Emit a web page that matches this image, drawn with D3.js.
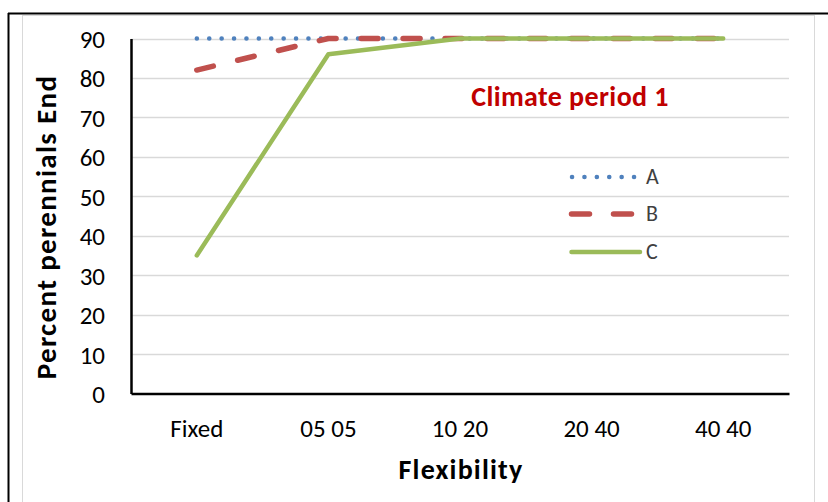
<!DOCTYPE html>
<html><head><meta charset="utf-8">
<script src="https://cdn.jsdelivr.net/npm/d3@7"></script>
<style>body{margin:0;background:#fff;}svg{display:block;}</style>
</head><body>
<svg id="c" width="828" height="502"></svg>
<script>
const categories = ["Fixed", "05 05", "10 20", "20 40", "40 40"];
const seriesA = [90, 90, 90, 90, 90];
const seriesB = [82, 90, 90, 90, 90];
const seriesC = [35, 86, 90, 90, 90];
const seriesNames = ["A", "B", "C"];
const yTicks = [0, 10, 20, 30, 40, 50, 60, 70, 80, 90];

(function () {
const svg = d3.select("#c");
const font = "Carlito, Calibri, Lato, 'Open Sans', sans-serif";

// borders
svg.append("line").attr("x1", 8).attr("x2", 828).attr("y1", 13.5).attr("y2", 13.5).attr("stroke", "#000").attr("stroke-width", 2);
svg.append("line").attr("x1", 8.5).attr("x2", 8.5).attr("y1", 13).attr("y2", 502).attr("stroke", "#000").attr("stroke-width", 2);
svg.append("rect").attr("x", 22.5).attr("y", 15.5).attr("width", 792).attr("height", 500).attr("fill", "none").attr("stroke", "#d9d9d9").attr("stroke-width", 1);

const pl = 131, pr = 789, pt = 38.5, pb = 393.5;
const x = d3.scaleBand().domain(categories).range([pl, pr]);
const y = d3.scaleLinear().domain([0, 90]).range([pb, pt]);

// gridlines
svg.append("g").selectAll("line").data(yTicks.filter(t => t > 0)).join("line")
  .attr("x1", pl).attr("x2", pr)
  .attr("y1", d => Math.round(y(d)) + 0.5).attr("y2", d => Math.round(y(d)) + 0.5)
  .attr("stroke", "#d9d9d9").attr("stroke-width", 1.3);

// y axis
const ya = svg.append("g").attr("transform", `translate(${pl},0)`)
  .call(d3.axisLeft(y).tickValues(yTicks).tickSize(0).tickPadding(26));
ya.select(".domain").attr("stroke", "#000").attr("stroke-width", 2.5);
ya.selectAll("text").attr("font-family", font).attr("font-size", 25).attr("fill", "#000").attr("dy", "0.36em");

// x axis
const xa = svg.append("g").attr("transform", `translate(0,${pb})`)
  .call(d3.axisBottom(x).tickSize(0));
xa.select(".domain").attr("stroke", "#000").attr("stroke-width", 2.5);
xa.selectAll("text").attr("font-family", font).attr("font-size", 25).attr("fill", "#000")
  .attr("dy", null).attr("y", 43);

const cx = d => x(d) + x.bandwidth() / 2;
const line = d3.line().x(d => cx(d.c)).y(d => y(d.v));
const mk = arr => categories.map((c, i) => ({c, v: arr[i]}));

const styles = [
  {data: seriesA, color: "#4F81BD", w: 4.5, dash: "0.1 12.3"},
  {data: seriesB, color: "#C0504D", w: 5.5, dash: "17 25"},
  {data: seriesC, color: "#9BBB59", w: 4.5, dash: null}
];
styles.forEach(s => {
  svg.append("path").datum(mk(s.data)).attr("d", line)
    .attr("fill", "none").attr("stroke", s.color).attr("stroke-width", s.w)
    .attr("stroke-linecap", "round").attr("stroke-linejoin", "round")
    .attr("stroke-dasharray", s.dash);
});

// legend
const lg = svg.append("g");
const legY = [177, 214, 252];
const legX1 = [572, 571.5, 571.5], legX2 = [635, 632, 640];
const legDash = ["0.1 12.3", "18 24", null];
styles.forEach((s, i) => {
  lg.append("line").attr("x1", legX1[i]).attr("x2", legX2[i]).attr("y1", legY[i]).attr("y2", legY[i])
    .attr("stroke", s.color).attr("stroke-width", s.w).attr("stroke-linecap", "round")
    .attr("stroke-dasharray", legDash[i]);
  lg.append("text").attr("x", 646).attr("y", legY[i] + 6.5).text(seriesNames[i])
    .attr("font-family", font).attr("font-size", 22).attr("fill", "#404040");
});

// titles
svg.append("text").attr("x", 570).attr("y", 106).attr("text-anchor", "middle")
  .attr("font-family", font).attr("font-weight", "bold").attr("font-size", 28)
  .attr("letter-spacing", 0.4).attr("fill", "#C00000").text("Climate period 1");
svg.append("text").attr("x", 461).attr("y", 479).attr("text-anchor", "middle")
  .attr("font-family", font).attr("font-weight", "bold").attr("font-size", 28)
  .attr("letter-spacing", 1.2).attr("fill", "#000").text("Flexibility");
svg.append("text").attr("transform", "translate(56,227) rotate(-90)").attr("text-anchor", "middle")
  .attr("font-family", font).attr("font-weight", "bold").attr("font-size", 29)
  .attr("letter-spacing", 1.3).attr("fill", "#000").text("Percent perennials End");
})();
</script>
</body></html>
